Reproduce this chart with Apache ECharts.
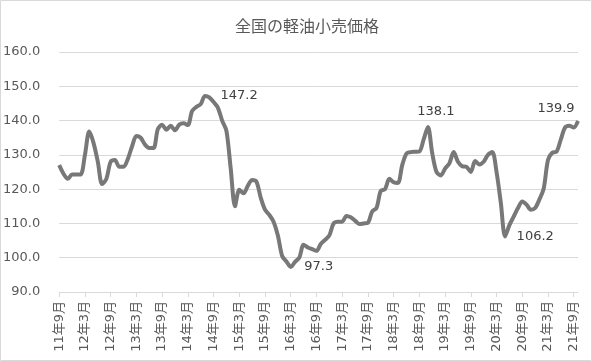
<!DOCTYPE html>
<html>
<head>
<meta charset="utf-8">
<script src="https://cdn.jsdelivr.net/npm/echarts@6/dist/echarts.min.js"></script>
<style>
html,body{margin:0;padding:0;background:#fff;}
#c{width:592px;height:361px;}
</style>
</head>
<body>
<div id="c"></div>
<script>
// ---- data ----
var titleText = "全国の軽油小売価格";
var startYear = 11, startMonth = 9, monthCount = 122; // 11年9月 .. 21年10月
var categories = [];
(function(){
  var y = startYear, m = startMonth;
  for (var i = 0; i < monthCount; i++) {
    categories.push(y + "年" + m + "月");
    m++; if (m > 12) { m = 1; y++; }
  }
})();
var prices = [
  127.0, 124.5, 123.0, 124.3, 124.3, 124.3, 130.0, 136.8, 133.5, 128.0,
  121.5, 123.0, 128.0, 128.5, 126.5, 126.5, 128.8, 132.5, 135.5, 135.0,
  133.0, 132.0, 132.0, 137.5, 138.8, 137.3, 138.5, 137.2, 138.8, 139.2,
  138.7, 142.8, 144.0, 144.8, 147.2, 146.8, 145.4, 143.8, 140.0, 137.0,
  126.0, 115.0, 119.8, 118.8, 121.0, 122.7, 122.2, 117.5, 114.0, 112.5,
  110.5, 106.5, 100.5, 98.9, 97.3, 98.8, 100.0, 103.8, 103.0, 102.5,
  102.0, 104.0, 105.2, 106.5, 110.0, 110.5, 110.5, 112.2, 111.8, 110.8,
  109.8, 110.0, 110.2, 113.5, 114.5, 119.5, 120.0, 123.0, 122.0, 121.8,
  127.0, 130.4, 130.8, 130.9, 131.0, 134.5, 138.1, 130.5, 125.0, 124.0,
  126.0, 127.5, 130.8, 128.0, 126.7, 126.5, 125.0, 128.2, 127.2, 128.0,
  130.0, 130.8, 125.0, 116.0, 106.2, 109.5, 112.0, 114.5, 116.4, 115.5,
  114.0, 114.5, 117.0, 120.2, 128.5, 130.6, 130.9, 134.5, 138.0, 138.5,
  138.0, 139.9
];
var labeledIndices = [34, 54, 86, 104, 121];
var yTicks = [90, 100, 110, 120, 130, 140, 150, 160];

// ---- chart ----
var FONT = "'DejaVu Sans', 'Noto Sans CJK JP', sans-serif";
var labelStyles = {
  34:  {position: 'right', distance: 15},
  54:  {position: 'right', distance: 13},
  86:  {position: 'top', distance: 8, offset: [8, 0]},
  104: {position: 'right', distance: 11},
  121: {position: 'top', distance: 5, offset: [-22, 0]}
};
var seriesData = prices.map(function(v, i){
  if (labeledIndices.indexOf(i) >= 0) {
    var s = labelStyles[i] || {position: 'top'};
    return {
      value: v,
      label: Object.assign({
        show: true,
        formatter: function(p){ return p.value.toFixed(1); },
        color: '#404040',
        fontSize: 13,
        fontFamily: FONT
      }, s)
    };
  }
  return v;
});

var chart = echarts.init(document.getElementById('c'), null, {renderer: 'canvas'});
chart.setOption({
  animation: false,
  backgroundColor: '#ffffff',
  title: {
    text: titleText,
    left: 230,
    top: 15,
    textStyle: {color: '#595959', fontSize: 16, fontWeight: 'normal', fontFamily: FONT}
  },
  graphic: [{
    type: 'rect',
    shape: {x: 0.5, y: 0.5, width: 591, height: 360},
    style: {fill: 'none', stroke: '#d9d9d9', lineWidth: 1},
    silent: true
  }],
  grid: {left: 59, right: 14, top: 52, bottom: 69, containLabel: false},
  xAxis: {
    type: 'category',
    data: categories,
    boundaryGap: false,
    axisLine: {lineStyle: {color: '#d9d9d9', width: 1}},
    axisTick: {show: true, interval: 5, length: 5, lineStyle: {color: '#d9d9d9'}},
    axisLabel: {
      interval: 5, rotate: 90, margin: 9,
      color: '#595959', fontSize: 13, fontFamily: FONT
    },
    splitLine: {show: false}
  },
  yAxis: {
    type: 'value',
    min: yTicks[0], max: yTicks[yTicks.length - 1], interval: 10,
    axisLine: {show: false},
    axisTick: {show: false},
    axisLabel: {
      margin: 19, color: '#595959', fontSize: 13, fontFamily: FONT,
      formatter: function(v){ return v.toFixed(1); }
    },
    splitLine: {lineStyle: {color: '#d9d9d9', width: 1}}
  },
  series: [{
    type: 'line',
    data: seriesData,
    smooth: 0.3,
    showSymbol: true,
    symbol: 'circle',
    symbolSize: 1,
    itemStyle: {color: '#787878'},
    lineStyle: {color: '#787878', width: 4},
    z: 3
  }]
});
</script>
</body>
</html>
